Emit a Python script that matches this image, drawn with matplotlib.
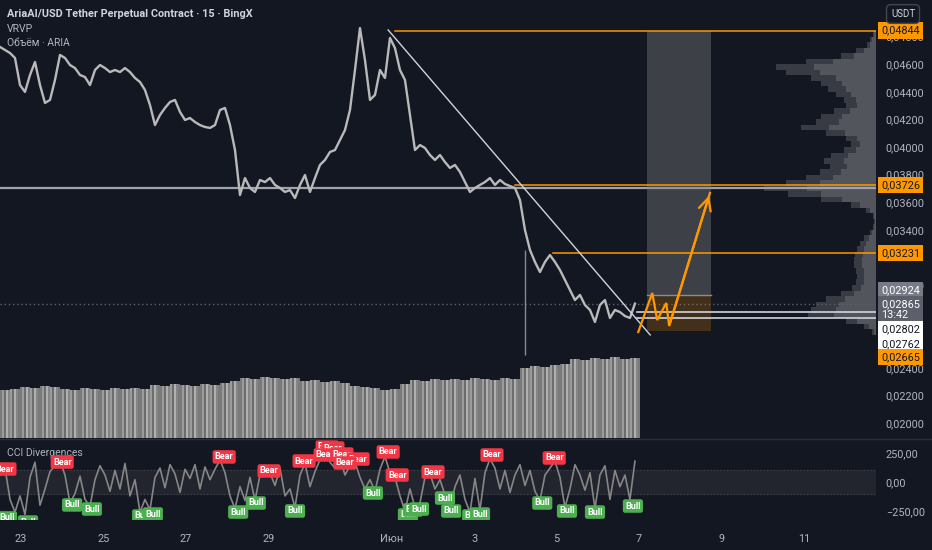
import numpy as np
import matplotlib
matplotlib.use('Agg')
import matplotlib.pyplot as plt
from matplotlib.lines import Line2D
from matplotlib.patches import Rectangle
from matplotlib.ticker import FixedLocator, FuncFormatter

plt.rcParams['font.family'] = ['Roboto', 'DejaVu Sans']

BG = '#131722'
TXT = '#b2b5be'
ORANGE = '#ff9800'

# ---- data -------------------------------------------------------------
# closes, AriaAI/USDT 15m chart, sampled about every 3h (x axis in days from May 23)
price = [
    0.04725, 0.04703, 0.04681, 0.04645, 0.04449, 0.04399, 0.04522, 0.04616, 0.04449, 0.04319,
    0.04341, 0.04486, 0.04667, 0.04645, 0.04594, 0.04572, 0.04522, 0.04507, 0.04449, 0.04558,
    0.04594, 0.04572, 0.04543, 0.04558, 0.04543, 0.04572, 0.04543, 0.04500, 0.04471, 0.04413,
    0.04304, 0.04159, 0.04232, 0.04283, 0.04326, 0.04341, 0.04254, 0.04196, 0.04210, 0.04181,
    0.04159, 0.04145, 0.04138, 0.04159, 0.04268, 0.04283, 0.04159, 0.03978, 0.03652, 0.03775,
    0.03703, 0.03674, 0.03761, 0.03746, 0.03775, 0.03725, 0.03703, 0.03674, 0.03688, 0.03630,
    0.03725, 0.03797, 0.03674, 0.03775, 0.03870, 0.03906, 0.03964, 0.03978, 0.04051, 0.04123,
    0.04268, 0.04558, 0.04862, 0.04630, 0.04341, 0.04377, 0.04558, 0.04500, 0.04790, 0.04717,
    0.04558, 0.04486, 0.04232, 0.03978, 0.04014, 0.03993, 0.03942, 0.03906, 0.03942, 0.03891,
    0.03848, 0.03870, 0.03819, 0.03746, 0.03674, 0.03703, 0.03725, 0.03746, 0.03775, 0.03725,
    0.03761, 0.03732, 0.03717, 0.03703, 0.03616, 0.03399, 0.03254, 0.03167, 0.03094, 0.03167,
    0.03217, 0.03167, 0.03109, 0.03036, 0.02964, 0.02891, 0.02928, 0.02855, 0.02819, 0.02732,
    0.02855, 0.02891, 0.02761, 0.02819, 0.02804, 0.02775, 0.02761, 0.02865,
]
t_price = np.linspace(-0.51, 14.90, len(price))

# wick on the June 4 dump
spike_day, spike_top, spike_low = 12.23, 0.03254, 0.02493

# volume (relative), one value per ~6h
vol = [
    48, 49, 51, 50, 52, 51, 49, 48, 50, 49,
    48, 50, 49, 50, 49, 53, 52, 54, 53, 52,
    54, 53, 55, 57, 60, 59, 61, 60, 59, 60,
    57, 58, 56, 57, 55, 52, 51, 50, 48, 49,
    54, 58, 57, 59, 58, 59, 58, 60, 59, 58,
    60, 59, 70, 72, 71, 73, 74, 79, 78, 80,
    79, 81, 79, 80,
]
t_vol = np.linspace(-0.39, 14.90, len(vol))

# CCI values on the same grid as price
cci = [
    60, 120, -150, -260, -120, -280, 40, 170, -200, -60,
    90, 140, 180, 60, -180, -100, 50, -150, -210, 20,
    140, 60, -80, 100, -60, 160, -120, 20, -260, -150,
    -240, 40, 120, -50, 150, 70, -90, 110, 30, 150,
    -60, 130, 20, 110, 190, 80, -120, -230, -40, -160,
    40, -160, 60, 140, 80, -30, 120, -120, -60, -220,
    60, 160, -40, 90, 190, 270, 170, 120, 200, 60,
    140, 170, 40, -60, 20, -80, 110, 220, 80, 40,
    -120, -250, -60, -220, -180, 40, 70, -60, 20, -110,
    -230, -40, 60, -150, -260, 30, -240, 80, 200, 120,
    -60, 100, -90, 60, 150, -30, 100, -80, -160, 60,
    120, 180, 40, -220, -60, 150, 60, -70, 80, -230,
    60, 140, -150, 100, -40, 60, -150, 180,
]

bear_t = [-0.39, 1.00, 4.93, 6.02, 6.87, 7.43, 7.57, 7.38, 7.79, 8.18, 7.86, 8.91, 9.13, 10.00, 11.43, 12.94]
bear_v = [112, 172, 216, 95, 181, 302, 293, 233, 241, 198, 164, 259, 60, 86, 233, 207]
bull_t = [-0.34, 0.17, 1.24, 1.72, 2.94, 3.20, 5.27, 5.70, 6.65, 8.54, 9.39, 9.51, 9.66,
          10.29, 10.44, 10.95, 11.14, 12.65, 13.25, 13.93, 14.85]
bull_v = [-310, -345, -198, -233, -293, -276, -259, -181, -250, -95, -284, -241, -233,
          -138, -250, -293, -276, -181, -250, -259, -207]

# visible range volume profile
vp_levels = np.linspace(0.0490, 0.0266, 57)
vp_vol = [0, 0, 3, 6, 9, 20, 35, 70, 100, 90, 65, 55, 48, 40, 32, 30, 42, 55, 60, 75,
          50, 30, 25, 32, 45, 52, 46, 56, 70, 90, 112, 88, 55, 25, 10, 3, 2, 3, 6, 12,
          16, 19, 21, 22, 22, 20, 19, 20, 24, 35, 50, 60, 65, 68, 30, 12, 4]

# drawings
trend_t, trend_p = [8.91, 15.27], [0.04848, 0.02638]
hline_grey = 0.03703
last_price = 0.02865
target, entry, stop = 0.04844, 0.02924, 0.02665
levels_orange = {0.04844: 9.08, 0.03726: 11.99, 0.03231: 12.91}
levels_white = [0.02802, 0.02762]
white_start = 14.95
box_t = [15.19, 16.75]
path_t = [14.98, 15.32, 15.44, 15.66, 15.73, 16.72]
path_p = [0.02659, 0.02942, 0.02746, 0.02870, 0.02703, 0.03667]

# price scale ticks that are not fully covered by the level tags
price_ticks = [0.020, 0.022, 0.024, 0.030, 0.034, 0.036, 0.038, 0.040, 0.042, 0.044, 0.046, 0.048]

date_ticks = [0, 2, 4, 6, 9, 11, 13, 15, 17, 19]
date_labels = ['23', '25', '27', '29', 'Июн', '3', '5', '7', '9', '11']

XMIN, XMAX = -0.51, 20.75

# ---- figure -------------------------------------------------------------
fig = plt.figure(figsize=(9.32, 5.5), dpi=100, facecolor=BG)
ax = fig.add_axes([0, 112 / 550, 876 / 932, 438 / 550])
axc = fig.add_axes([0, 30 / 550, 876 / 932, 81 / 550], sharex=ax)

# volume pane lives in a twin of the price axes (twinx moves ticks, so set them after)
axv = ax.twinx()
axv.set_ylim(0, 438)
axv.axis('off')

for a in (ax, axc):
    a.set_facecolor(BG)
    for s in a.spines.values():
        s.set_visible(False)
    a.yaxis.tick_right()
    a.tick_params(axis='both', length=0, colors=TXT, labelsize=7.8)

ax.set_xlim(XMIN, XMAX)
ax.set_ylim(0.018913, 0.050652)
ax.yaxis.set_major_locator(FixedLocator(price_ticks))
ax.yaxis.set_major_formatter(FuncFormatter(lambda v, p: f'{v:.5f}'.replace('.', ',')))
ax.tick_params(axis='y', pad=7)
ax.tick_params(axis='x', labelbottom=False)

# volume profile
right = XMAX
vmax = max(vp_vol)
wd = np.array(vp_vol) / vmax * 2.72
ax.barh(vp_levels, wd, left=right - wd, height=0.0004, color='#383b44', zorder=1)
ax.barh(vp_levels, wd * 0.62, left=right - wd * 0.62, height=0.0004, color='#52555c', zorder=1)

# volume bars, each value split in thin strokes like the dense 15m bars
shades = ['#7a7a7a', '#9c9c9c', '#6c6c6c', '#b0b0b0', '#858585']
step = t_vol[1] - t_vol[0]
sub = len(shades)
for i, (t, v) in enumerate(zip(t_vol, vol)):
    xs = t - step / 2 + (np.arange(sub) + 0.5) * step / sub
    axv.bar(xs, [v] * sub, width=step / sub * 0.9,
            color=shades[i % 2:] + shades[:i % 2], zorder=1)

# lines
ax.axhline(hline_grey, color='#a0a3ab', lw=1.6, zorder=2)
ax.axhline(last_price, color='#5d606b', lw=1, ls=(0, (1, 2)), zorder=2)
for lvl, start in levels_orange.items():
    ax.plot([start, right], [lvl, lvl], color=ORANGE, lw=1.1, zorder=3)
for lvl in levels_white:
    ax.plot([white_start, right], [lvl, lvl], color='#d1d4dc', lw=1.2, zorder=3)

# price
ax.vlines(spike_day, spike_low, spike_top, color='#8a8a8a', lw=1, zorder=4)
ax.plot(t_price, price, color='#b9b9b9', lw=1.7, zorder=4)
ax.plot(trend_t, trend_p, color='#d1d4dc', lw=1, zorder=5)

# long position box
ax.add_patch(Rectangle((box_t[0], entry), box_t[1] - box_t[0], target - entry,
                       fc='#808080', alpha=0.4, ec='none', zorder=2))
ax.add_patch(Rectangle((box_t[0], stop), box_t[1] - box_t[0], entry - stop,
                       fc=ORANGE, alpha=0.2, ec='none', zorder=2))
ax.plot(box_t, [entry, entry], color='#8d8d8d', lw=1, zorder=2)

# forecast path
ax.plot(path_t, path_p, color=ORANGE, lw=1.6, zorder=6, solid_joinstyle='miter')
ax.annotate('', xy=(path_t[-1], path_p[-1]), xytext=(path_t[-2], path_p[-2]),
            arrowprops=dict(arrowstyle='->', color=ORANGE, lw=1.6, mutation_scale=22),
            zorder=6)

# price scale labels
def tag(p, text, fc, tc, dy=0):
    ax.annotate(text, xy=(1.0, p), xycoords=('axes fraction', 'data'),
                xytext=(5, dy), textcoords='offset pixels', ha='left', va='center',
                fontsize=7.8, color=tc, annotation_clip=False, zorder=10,
                bbox=dict(boxstyle='square,pad=0.3', fc=fc, ec='none'))

tag(0.04844, '0,04844', ORANGE, '#131722')
tag(0.03726, '0,03726', ORANGE, '#131722')
tag(0.03231, '0,03231', ORANGE, '#131722')
tag(0.02924, '0,02924', '#787b86', 'white', dy=5)
tag(0.02865, '0,02865\n13:42', '#5d606b', 'white', dy=-6)
tag(0.02802, '0,02802', 'white', '#131722', dy=-17)
tag(0.02762, '0,02762', 'white', '#131722', dy=-26)
tag(0.02665, '0,02665', ORANGE, '#131722', dy=-26)

# ---- CCI panel ----------------------------------------------------------
axc.set_ylim(-327.6, 370.7)
axc.axhspan(-100, 100, color='#22252e', zorder=0)
axc.axhline(100, color='#434651', lw=0.8, ls=(0, (1, 2)))
axc.axhline(-100, color='#434651', lw=0.8, ls=(0, (1, 2)))
axc.plot(t_price, cci, color='#868686', lw=1.2, zorder=2)
for t, v in zip(bear_t, bear_v):
    axc.text(t, v, 'Bear', ha='center', va='center', fontsize=6.5, color='white',
             fontweight='bold', zorder=5, clip_on=True,
             bbox=dict(boxstyle='round,pad=0.25', fc='#f23645', ec='none'))
for t, v in zip(bull_t, bull_v):
    axc.text(t, v, 'Bull', ha='center', va='center', fontsize=6.5, color='white',
             fontweight='bold', zorder=5, clip_on=True,
             bbox=dict(boxstyle='round,pad=0.25', fc='#4caf50', ec='none'))
axc.yaxis.set_major_locator(FixedLocator([250, 0, -250]))
axc.set_yticklabels(['250,00', '0,00', '−250,00'])
axc.tick_params(axis='y', pad=7)
axc.set_xticks(date_ticks)
axc.set_xticklabels(date_labels)
axc.tick_params(axis='x', pad=10)
axc.text(0.008, 0.83, 'CCI Divergences', transform=axc.transAxes, fontsize=7.5,
         color=TXT, va='center')

# separators and header
fig.add_artist(Line2D([0, 1], [111.5 / 550] * 2, color='#2a2e39', lw=1))
fig.text(7 / 932, 1 - 14 / 550, 'AriaAI/USD Tether Perpetual Contract · 15 · BingX',
         fontsize=7.8, fontweight='bold', color='#d1d4dc', va='center')
fig.text(7 / 932, 1 - 29 / 550, 'VRVP', fontsize=7.5, color=TXT, va='center')
fig.text(7 / 932, 1 - 43 / 550, 'Объём · ARIA', fontsize=7.5, color=TXT, va='center')
fig.text(903 / 932, 1 - 14 / 550, 'USDT', fontsize=7, color='#d1d4dc', ha='center',
         va='center', bbox=dict(boxstyle='round,pad=0.45', fc=BG, ec='#434651'))

fig.savefig('out.png', dpi=100, facecolor=BG)
